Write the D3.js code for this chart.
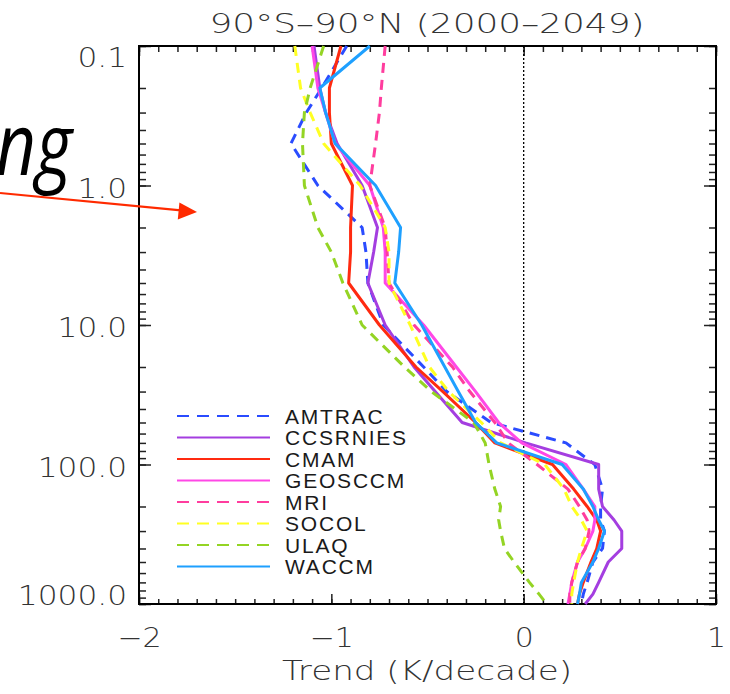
<!DOCTYPE html>
<html>
<head>
<meta charset="utf-8">
<script src="https://cdn.jsdelivr.net/npm/d3@7"></script>
<style>
  body { margin: 0; background: #fff; }
  .lab { font-family: "DejaVu Sans", sans-serif; font-weight: 200; fill: #333; }
</style>
</head>
<body>
<svg id="chart" width="730" height="694"></svg>
<script>
// pressure levels (hPa) and trend per model (K/decade)
const pressure = [0.1, 0.2, 0.3, 0.5, 1, 2, 3, 5, 10, 20, 30, 50, 70, 100, 150, 200, 250, 300, 400, 500, 700, 850, 1000];

const amtrac   = [-0.92, -1.05, -1.13, -1.21, -1.07, -0.84, -0.82, -0.81, -0.73, -0.52, -0.40, -0.17, 0.22, 0.37, 0.41, 0.40, 0.40, 0.42, 0.41, 0.36, 0.33, 0.31, 0.30];
const ccsrnies = [-1.09, -1.06, -1.03, -0.97, -0.84, -0.76, -0.78, -0.81, -0.72, -0.57, -0.46, -0.32, 0.01, 0.39, 0.39, 0.41, 0.47, 0.51, 0.51, 0.44, 0.39, 0.36, 0.32];
const cmam     = [-0.95, -1.01, -1.01, -1.00, -0.89, -0.90, -0.90, -0.91, -0.75, -0.56, -0.42, -0.25, -0.15, 0.15, 0.26, 0.33, 0.38, 0.40, 0.38, 0.35, 0.31, 0.29, 0.28];
const geosccm  = [-1.10, -1.07, -1.03, -0.98, -0.80, -0.73, -0.72, -0.72, -0.52, -0.35, -0.25, -0.13, -0.01, 0.22, 0.31, 0.37, 0.37, 0.36, 0.32, 0.28, 0.25, 0.24, 0.23];
const mri      = [-0.72, -0.74, -0.75, -0.77, -0.80, -0.72, -0.71, -0.70, -0.57, -0.37, -0.28, -0.15, -0.08, 0.07, 0.23, 0.29, 0.33, 0.34, 0.32, 0.28, 0.25, 0.24, 0.24];
const socol    = [-1.19, -1.16, -1.11, -1.04, -0.85, -0.72, -0.70, -0.70, -0.59, -0.49, -0.39, -0.22, -0.12, 0.11, 0.21, 0.25, 0.30, 0.33, 0.30, 0.28, 0.26, 0.25, 0.25];
const ulaq     = [-1.04, -1.11, -1.14, -1.15, -1.14, -1.07, -1.00, -0.94, -0.84, -0.62, -0.48, -0.26, -0.20, -0.18, -0.15, -0.12, -0.13, -0.12, -0.10, -0.05, 0.03, 0.08, 0.12];
const waccm    = [-0.80, -1.06, -1.03, -0.98, -0.77, -0.64, -0.65, -0.67, -0.53, -0.41, -0.34, -0.25, -0.14, 0.20, 0.31, 0.36, 0.39, 0.42, 0.39, 0.36, 0.30, 0.29, 0.28];

const models = ["AMTRAC", "CCSRNIES", "CMAM", "GEOSCCM", "MRI", "SOCOL", "ULAQ", "WACCM"];
const trends = [amtrac, ccsrnies, cmam, geosccm, mri, socol, ulaq, waccm];

const xTicks = [-2, -1, 0, 1];
const yTicks = [0.1, 1, 10, 100, 1000];
const title = "90°S\u201390°N (2000\u20132049)";
const xTitle = "Trend (K/decade)";

// look of each model line
const colours = ["#2a4cff", "#a43ee0", "#ff2a10", "#ff48e6", "#ff3d9e", "#ffff22", "#94d424", "#1ea0ff"];
const dashed  = [true, false, false, false, true, true, true, false];

const svg = d3.select("#chart");
svg.append("rect").attr("width", 730).attr("height", 694).attr("fill", "#fff");

const x = d3.scaleLinear().domain([-2, 1]).range([139, 716]);
const y = d3.scaleLog().domain([0.1, 1000]).range([46, 604]);
const xMinor = x.ticks(30);
const yMinor = y.ticks();

function clean(g) {
  g.select(".domain").remove();
  g.selectAll(".tick line").attr("stroke", "#222").attr("stroke-width", 1.5);
}

// IDL style font is wider than DejaVu, so stretch the glyphs a bit
function widen(sel, k) {
  sel.each(function () {
    const w = this.getComputedTextLength();
    d3.select(this).attr("textLength", w * k).attr("lengthAdjust", "spacingAndGlyphs");
  });
}

// bottom + top
svg.append("g").attr("transform", "translate(0,604)")
  .call(d3.axisBottom(x).tickValues(xMinor).tickSize(-5).tickFormat(""))
  .call(clean);
const xAxis = svg.append("g").attr("transform", "translate(0,604)")
  .call(d3.axisBottom(x).tickValues(xTicks).tickSize(-10)
    .tickFormat(d => d < 0 ? "\u2212" + Math.abs(d) : d))
  .call(clean);
svg.append("g").attr("transform", "translate(0,46)")
  .call(d3.axisTop(x).tickValues(xMinor).tickSize(-6).tickFormat(""))
  .call(clean);
svg.append("g").attr("transform", "translate(0,46)")
  .call(d3.axisTop(x).tickValues(xTicks).tickSize(-10).tickFormat(""))
  .call(clean);

// left + right
svg.append("g").attr("transform", "translate(139,0)")
  .call(d3.axisLeft(y).tickValues(yMinor).tickSize(-7).tickFormat(""))
  .call(clean);
const yAxis = svg.append("g").attr("transform", "translate(139,0)")
  .call(d3.axisLeft(y).tickValues(yTicks).tickSize(-12).tickPadding(12)
    .tickFormat(d3.format(".1f")))
  .call(clean);
svg.append("g").attr("transform", "translate(716,0)")
  .call(d3.axisRight(y).tickValues(yMinor).tickSize(-7).tickFormat(""))
  .call(clean);
svg.append("g").attr("transform", "translate(716,0)")
  .call(d3.axisRight(y).tickValues(yTicks).tickSize(-12).tickFormat(""))
  .call(clean);

[xAxis, yAxis].forEach(g => g.selectAll("text")
  .attr("class", "lab").attr("font-size", 26).attr("fill", null));
xAxis.selectAll("text").attr("dy", null).attr("y", 43);
yAxis.selectAll("text").attr("dy", d => d === 0.1 ? 20 : d === 1000 ? 0 : 11.5);
widen(xAxis.selectAll("text"), 1.15);
widen(yAxis.selectAll("text"), 1.2);

// frame
svg.append("rect")
  .attr("x", x(-2)).attr("y", y(0.1))
  .attr("width", x(1) - x(-2)).attr("height", y(1000) - y(0.1))
  .attr("fill", "none").attr("stroke", "#000").attr("stroke-width", 2);

// zero line
svg.append("line")
  .attr("x1", x(0)).attr("x2", x(0)).attr("y1", y(0.1)).attr("y2", y(1000))
  .attr("stroke", "#000").attr("stroke-width", 1.3).attr("stroke-dasharray", "2,2");

// profiles
const line = d3.line().x(d => x(d[0])).y(d => y(d[1]));
svg.append("g").selectAll("path")
  .data(trends)
  .enter()
  .append("path")
  .attr("d", (t) => line(t.map((v, i) => [v, pressure[i]])))
  .attr("fill", "none")
  .attr("stroke", (t, i) => colours[i])
  .attr("stroke-width", 3)
  .attr("stroke-linejoin", "round")
  .attr("stroke-dasharray", (t, i) => dashed[i] ? "10,7" : null);

// legend
const legend = svg.append("g").selectAll("g")
  .data(models)
  .enter()
  .append("g")
  .attr("transform", (m, i) => `translate(177,${416 + i * 21.5})`);
legend.append("line")
  .attr("x1", 0).attr("x2", 93)
  .attr("stroke", (m, i) => colours[i])
  .attr("stroke-width", 2)
  .attr("stroke-dasharray", (m, i) => dashed[i] ? "12,8" : null);
legend.append("text")
  .attr("x", 108).attr("y", 7.5)
  .attr("font-family", "'Liberation Sans', Arial, sans-serif")
  .attr("font-size", 21).attr("letter-spacing", 1.8)
  .attr("fill", "#1a1a1a")
  .text(m => m);

// titles
svg.append("text").attr("class", "lab")
  .attr("x", 427).attr("y", 33).attr("text-anchor", "middle")
  .attr("font-size", 26).attr("textLength", 435).attr("lengthAdjust", "spacingAndGlyphs")
  .text(title);
svg.append("text").attr("class", "lab")
  .attr("x", 427).attr("y", 680).attr("text-anchor", "middle")
  .attr("font-size", 26).attr("textLength", 290).attr("lengthAdjust", "spacingAndGlyphs")
  .text(xTitle);

// slide annotation (cut off at the left edge)
svg.append("text")
  .attr("x", -4).attr("y", 175)
  .attr("font-family", "'Open Sans', sans-serif").attr("font-style", "italic")
  .attr("font-size", 86).attr("fill", "#000")
  .attr("textLength", 76).attr("lengthAdjust", "spacingAndGlyphs")
  .text("ng");
svg.append("line")
  .attr("x1", 0).attr("y1", 193).attr("x2", 181).attr("y2", 210.3)
  .attr("stroke", "#ff2a00").attr("stroke-width", 2.2);
svg.append("polygon")
  .attr("points", "197,212 177.8,219.4 179.4,202.4")
  .attr("fill", "#ff2a00");
</script>
</body>
</html>
